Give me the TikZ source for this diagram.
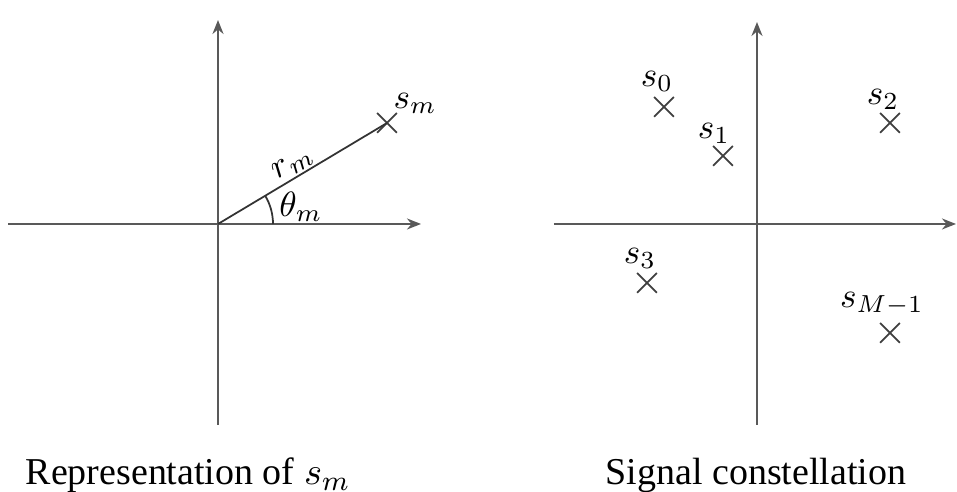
\documentclass[tikz,border=0pt]{standalone}
\usepackage{fontspec}
\setmainfont{Liberation Serif}
\usetikzlibrary{arrows.meta,positioning,shapes.misc}

\tikzset{
  axis/.style={draw=black!65, line width=0.6pt, -{Stealth[length=1.4mm,width=1.1mm]}},
  ray/.style={draw=black!80, line width=0.5pt},
  pt/.style={cross out, draw=black!75, line width=0.5pt, minimum size=0.18cm, inner sep=0pt},
  lbl/.style={inner sep=0pt},
  caption/.style={anchor=base, font=\fontsize{10.8}{13}\selectfont},
}

\begin{document}
\begin{tikzpicture}
    \useasboundingbox (0,0) rectangle (9.57,4.92);

    % Left: representation of s_m
    \coordinate (O1) at (2.18,2.68);
    \coordinate (xl1) at (0.08,2.68);
    \coordinate (xr1) at (4.21,2.68);
    \coordinate (yb1) at (2.18,0.67);
    \coordinate (yt1) at (2.18,4.72);
    \draw[axis] (xl1) -- (xr1);
    \draw[axis] (yb1) -- (yt1);

    % Point s_m with radius and angle
    \node[pt] (pm) at (3.87,3.69) {};
    \draw[ray] (O1) -- node[pos=0.485, above, sloped, inner sep=0.5pt] (rm) {$r_m$} (pm.center);
    \draw[ray] (O1) ++(0.55,0) arc (0:31:0.55);
    \node (th) at (3.01,2.85) {$\theta_m$};
    \node[lbl, above right=-0.01cm and -0.04cm of pm] (lm) {$s_m$};

    % Right: signal constellation
    \coordinate (xl2) at (5.54,2.68);
    \coordinate (xr2) at (9.56,2.68);
    \coordinate (yb2) at (7.57,0.67);
    \coordinate (yt2) at (7.57,4.70);
    \draw[axis] (xl2) -- (xr2);
    \draw[axis] (yb2) -- (yt2);

    % Constellation points
    \node[pt] (p0) at (6.64,3.85) {};
    \node[pt] (p1) at (7.23,3.36) {};
    \node[pt] (p2) at (8.90,3.69) {};
    \node[pt] (p3) at (6.47,2.09) {};
    \node[pt] (pM) at (8.90,1.59) {};
    \node[lbl, above=0.05cm of p0, xshift=-0.07cm] (l0) {$s_0$};
    \node[lbl, above=0.02cm of p1, xshift=-0.09cm] (l1) {$s_1$};
    \node[lbl, above=0.03cm of p2, xshift=-0.07cm] (l2) {$s_2$};
    \node[lbl, above=0.04cm of p3, xshift=-0.07cm] (l3) {$s_3$};
    \node[lbl, above=0.07cm of pM, xshift=-0.08cm] (lM) {$s_{M-1}$};

    % Captions
    \node[caption] (cap1) at (1.88,0.07) {Representation of $s_m$};
    \node[caption] (cap2) at (7.56,0.07) {Signal constellation};
\end{tikzpicture}
\end{document}
